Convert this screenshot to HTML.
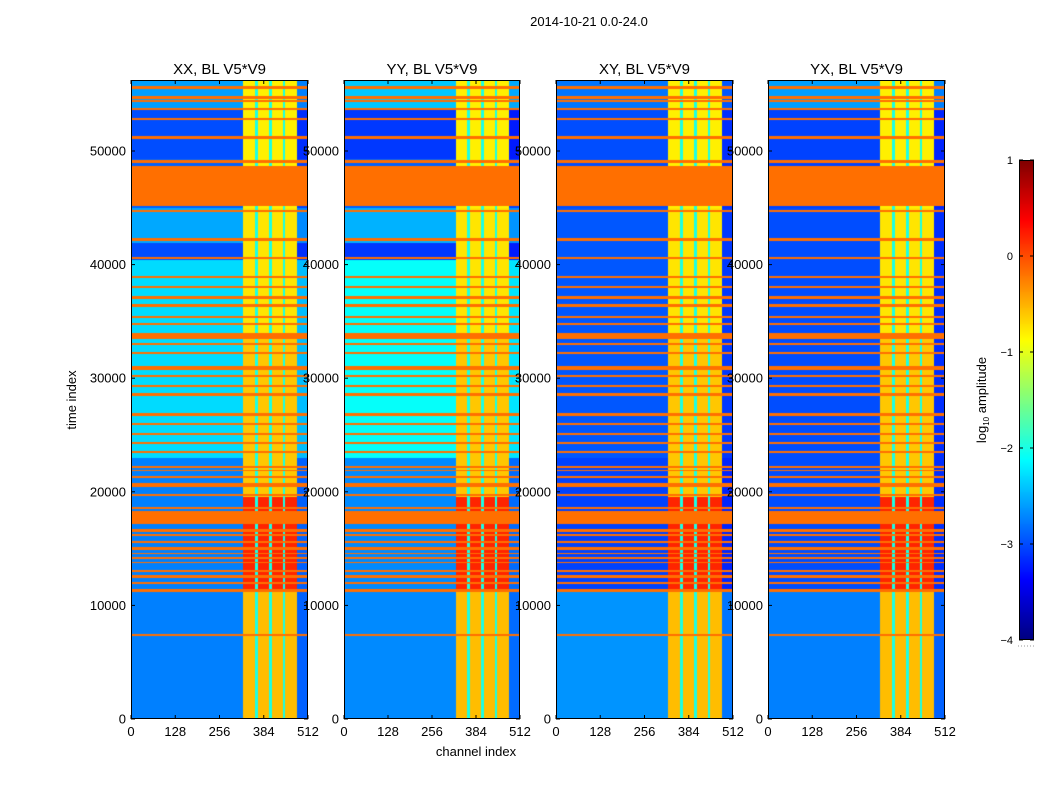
<!DOCTYPE html>
<html><head><meta charset="utf-8">
<style>
body{margin:0;background:#fff;width:1050px;height:800px;overflow:hidden;position:relative;font-family:"Liberation Sans",sans-serif;}
canvas{position:absolute;}
svg{position:absolute;left:0;top:0;}
</style></head>
<body>
<canvas id="p0" width="177" height="639" style="left:131px;top:80px"></canvas>
<canvas id="p1" width="176" height="639" style="left:344px;top:80px"></canvas>
<canvas id="p2" width="177" height="639" style="left:556px;top:80px"></canvas>
<canvas id="p3" width="177" height="639" style="left:768px;top:80px"></canvas>
<canvas id="cb" width="15" height="480" style="left:1019px;top:160px"></canvas>
<svg id="ov" width="1050" height="800"></svg>
<script>
// ---- data ----
const panelTitles = ["XX, BL V5*V9","YY, BL V5*V9","XY, BL V5*V9","YX, BL V5*V9"];
const xTicks = [0,128,256,384,512];
const yTicks = [0,10000,20000,30000,40000,50000];
const cbTicks = [1,0,-1,-2,-3,-4];
// channel bands [start, end, type]
const channelBands = [[0,325,"bg"],[325,358,"s"],[358,366,"g"],[366,400,"s"],[400,407,"g"],[407,439,"s"],[439,446,"g"],[446,480,"s"],[480,512,"e"]];
// background level by time region [t0,t1,value], one per panel
const bgXX = [[0,11300,-2.75],[11300,23000,-2.75],[23000,40400,-2.3],[40400,41900,-3.0],[41900,45000,-2.55],[45000,49300,-2.9],[49300,53600,-3.0],[53600,56250,-2.6]];
const bgYY = [[0,11300,-2.7],[11300,23000,-2.7],[23000,40400,-2.1],[40400,41900,-3.1],[41900,45000,-2.5],[45000,49300,-2.9],[49300,53600,-3.1],[53600,56250,-2.4]];
const bgXY = [[0,11300,-2.65],[11300,23000,-3.05],[23000,40400,-2.95],[40400,45000,-2.95],[45000,53600,-3.0],[53600,56250,-2.8]];
const bgYX = [[0,11300,-2.75],[11300,23000,-3.0],[23000,40400,-3.0],[40400,45000,-3.0],[45000,53600,-3.05],[53600,56250,-2.6]];
const panelBg = [bgXX, bgYY, bgXY, bgYX];
// stripe level by time region
const stripeLevel = [[0,11300,-0.55],[11300,19500,0.2],[19500,33800,-0.6],[33800,45000,-0.75],[45000,56250,-0.8]];
// RFI lines [t0,t1]
const rfiLines = [[55450,55700],[54600,54800],[54350,54450],[53600,53800],[52700,52900],[51050,51300],[48950,49250],[45200,48650],[44600,44800],[42100,42300],[40500,40700],[38800,39000],[37900,38100],[37000,37200],[36300,36500],[35300,35500],[34700,34900],[33450,33950],[32900,33100],[32100,32300],[30750,31100],[30100,30300],[29200,29400],[28400,28700],[26700,26900],[25900,26100],[25000,25200],[24200,24400],[23400,23600],[22100,22300],[21800,21950],[21200,21400],[20400,20800],[19600,19800],[18500,18700],[17200,18300],[16500,16700],[16100,16300],[15500,15700],[14900,15150],[14500,14650],[14100,14300],[13700,13850],[12900,13100],[12400,12650],[11900,12100],[11200,11400],[7350,7450]];
const tMax = 56250, cMax = 512, vMin = -4, vMax = 1;

function jet(x){
  const c = v => Math.max(0, Math.min(1, v));
  return [c(1.5-Math.abs(4*x-3))*255, c(1.5-Math.abs(4*x-2))*255, c(1.5-Math.abs(4*x-1))*255];
}
function lookup(arr, t){ for(const r of arr){ if(t>=r[0] && t<r[1]) return r[2]; } return arr[arr.length-1][2]; }
function isRfi(t){ for(const r of rfiLines){ if(t>=r[0]&&t<r[1]) return true; } return false; }
function bandType(ch){ for(const b of channelBands){ if(ch>=b[0]&&ch<b[1]) return b[2]; } return "e"; }
function value(p, t, ch){
  if(isRfi(t)) return -0.17;
  const bt = bandType(ch);
  const bg = lookup(panelBg[p], t);
  if(bt==="bg") return bg;
  if(bt==="e") return bg - 0.15;
  if(bt==="g") return -2.0;
  return lookup(stripeLevel, t);
}
for(let p=0;p<4;p++){
  const cv = document.getElementById("p"+p), ctx = cv.getContext("2d");
  const W = cv.width, H = cv.height, img = ctx.createImageData(W,H);
  for(let y=0;y<H;y++){
    const t = (H-0.5-y)/H*tMax;
    for(let x=0;x<W;x++){
      const ch = (x+0.5)/W*cMax;
      const col = jet((value(p,t,ch)-vMin)/(vMax-vMin));
      const i=(y*W+x)*4; img.data[i]=col[0]; img.data[i+1]=col[1]; img.data[i+2]=col[2]; img.data[i+3]=255;
    }
  }
  ctx.putImageData(img,0,0);
}
{
  const cv=document.getElementById("cb"), ctx=cv.getContext("2d");
  for(let y=0;y<cv.height;y++){ const c=jet(1-(y+0.5)/cv.height); ctx.fillStyle=`rgb(${c[0]|0},${c[1]|0},${c[2]|0})`; ctx.fillRect(0,y,cv.width,1); }
}
// ---- axes overlay ----
const NS="http://www.w3.org/2000/svg", ov=document.getElementById("ov");
function el(tag, attrs, txt){ const e=document.createElementNS(NS,tag); for(const k in attrs) e.setAttribute(k,attrs[k]); if(txt!==undefined) e.textContent=txt; ov.appendChild(e); return e; }
const lefts=[131,344,556,768], widths=[177,176,177,177], plotTop=80, plotBot=719;
const yPix = t => plotBot - t/tMax*(plotBot-plotTop);
for(let p=0;p<4;p++){
  const L=lefts[p], W=widths[p];
  const fr=el("rect",{x:L+0.5,y:plotTop+0.5,width:W-1,height:plotBot-plotTop-1,fill:"none",stroke:"#000","stroke-width":1});
  
  
  const ti=el("text",{x:L+W/2,y:74,"text-anchor":"middle","font-size":"15"},panelTitles[p]);
  
  
  for(const v of xTicks){
    const x=L+v/cMax*W;
    el("line",{x1:x,x2:x,y1:plotBot,y2:plotBot-4,stroke:"#000"});
    el("line",{x1:x,x2:x,y1:plotTop,y2:plotTop+4,stroke:"#000"});
    const tl=el("text",{x:x,y:736,"text-anchor":"middle","font-size":"13"},String(v));
    
    
  }
  for(const v of yTicks){
    const y=yPix(v);
    el("line",{x1:L,x2:L+4,y1:y,y2:y,stroke:"#000"});
    el("line",{x1:L+W,x2:L+W-4,y1:y,y2:y,stroke:"#000"});
    const tl=el("text",{x:L-5,y:y+4.5,"text-anchor":"end","font-size":"13"},String(v));
    
    
  }
}
const st=el("text",{x:589,y:26,"text-anchor":"middle","font-size":"13"},"2014-10-21 0.0-24.0");


const xl=el("text",{x:476,y:756,"text-anchor":"middle","font-size":"13"},"channel index");


const yl=el("text",{x:0,y:0,"text-anchor":"middle","font-size":"13",transform:"translate(76,400) rotate(-90)"},"time index");


// colorbar
const cbF=el("rect",{x:1019.5,y:160.5,width:14,height:479,fill:"none",stroke:"#000"});


for(const v of cbTicks){
  const y=160+(vMax-v)/(vMax-vMin)*480;
  el("line",{x1:1019,x2:1023,y1:y,y2:y,stroke:"#000"});
  el("line",{x1:1034,x2:1030,y1:y,y2:y,stroke:"#000"});
  const tl=el("text",{x:1013,y:y+4,"text-anchor":"end","font-size":"11"},v<0?"\u2212"+(-v):String(v));
  
  
}
const cl=el("text",{x:0,y:0,"text-anchor":"middle","font-size":"13",transform:"translate(986,400) rotate(-90)"});
cl.innerHTML='log<tspan font-size="8" dy="3">10</tspan><tspan dy="-3"> amplitude</tspan>';


el("line",{x1:1018,x2:1035,y1:646,y2:646,stroke:"#999","stroke-dasharray":"1,2"});
</script>
</body></html>
